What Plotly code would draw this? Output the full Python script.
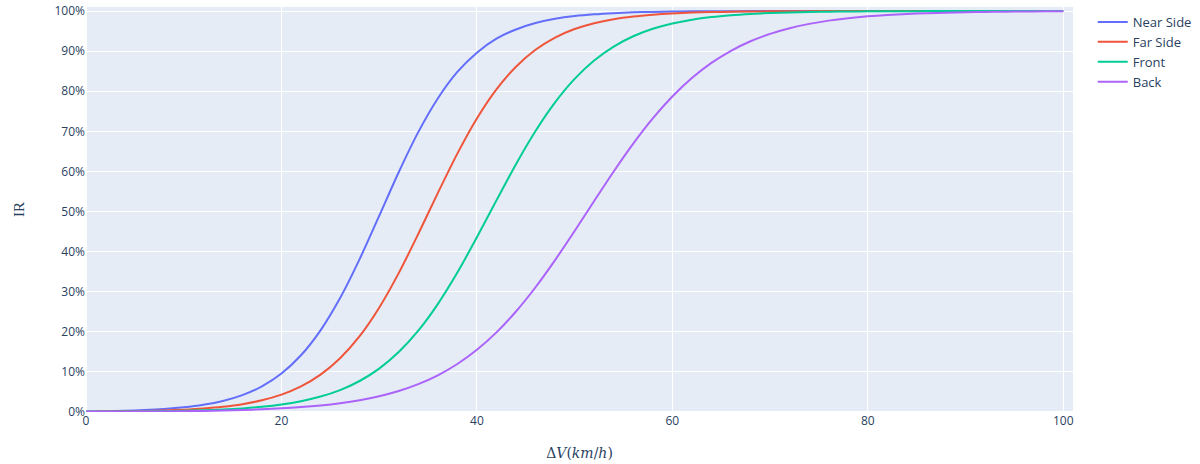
import plotly.graph_objects as go

delta_v = [0, 2, 4, 6, 8, 10, 12, 14, 16, 18, 20, 22, 24, 26, 28, 30, 32, 34, 36, 38,
           40, 42, 44, 46, 48, 50, 52, 54, 56, 58, 60, 62, 64, 66, 68, 70, 72, 74, 76, 78,
           80, 82, 84, 86, 88, 90, 92, 94, 96, 98, 100]

near_side = [0.0013, 0.0020, 0.0031, 0.0048, 0.0075, 0.0116, 0.0179, 0.0275, 0.0421, 0.0639,
             0.0959, 0.1414, 0.2036, 0.2841, 0.3813, 0.489, 0.598, 0.698, 0.782, 0.848,
             0.896, 0.931, 0.954, 0.970, 0.9805, 0.9874, 0.9918, 0.9947, 0.9966, 0.9978,
             0.9986, 0.9991, 0.99941, 0.99962, 0.99976, 0.99984, 0.9999, 0.99993, 0.99996, 0.99997,
             0.99998, 0.99999, 0.99999, 0.99999, 1.0, 1.0, 1.0, 1.0, 1.0, 1.0, 1.0]

far_side = [0.00075, 0.00113, 0.0017, 0.00256, 0.00385, 0.00579, 0.0087, 0.01305, 0.0195, 0.0292,
            0.0433, 0.0638, 0.0932, 0.1341, 0.1891, 0.2601, 0.3463, 0.4439, 0.5460, 0.6444,
            0.7320, 0.8045, 0.8611, 0.9033, 0.9337, 0.9550, 0.9697, 0.9797, 0.9864, 0.9909,
            0.9940, 0.9960, 0.9973, 0.9982, 0.9988, 0.9992, 0.99948, 0.99966, 0.99977, 0.99985,
            0.9999, 0.99993, 0.99996, 0.99997, 0.99998, 0.99999, 0.99999, 1.0, 1.0, 1.0, 1.0]

front = [0.00047, 0.00068, 0.00099, 0.00143, 0.00207, 0.00299, 0.00432, 0.00625, 0.00902, 0.0130,
         0.0187, 0.0269, 0.0385, 0.0547, 0.0773, 0.1082, 0.1494, 0.2028, 0.2691, 0.3477,
         0.4356, 0.5277, 0.6180, 0.7008, 0.7722, 0.8308, 0.8767, 0.9114, 0.9371, 0.9557,
         0.9690, 0.9784, 0.9850, 0.9896, 0.9928, 0.9950, 0.9965, 0.9976, 0.9983, 0.9989,
         0.9992, 0.99945, 0.99962, 0.99974, 0.99982, 0.99988, 0.99991, 0.99994, 0.99996, 0.99997,
         0.99998]

back = [0.00045, 0.00061, 0.00083, 0.00112, 0.00151, 0.00204, 0.00274, 0.00370, 0.00499, 0.00672,
        0.00906, 0.01219, 0.01638, 0.0220, 0.0295, 0.0394, 0.0524, 0.0695, 0.0915, 0.1197,
        0.1551, 0.1986, 0.2507, 0.3111, 0.3788, 0.4514, 0.5262, 0.5999, 0.6693, 0.7321,
        0.7867, 0.8327, 0.8705, 0.9007, 0.9245, 0.9430, 0.9571, 0.9679, 0.9760, 0.9821,
        0.9867, 0.9901, 0.9926, 0.9945, 0.9959, 0.9970, 0.9978, 0.9984, 0.9988, 0.9991,
        0.9993]

series_names = ["Near Side", "Far Side", "Front", "Back"]
series_values = [near_side, far_side, front, back]
colors = ["#636efa", "#EF553B", "#00cc96", "#ab63fa"]

fig = go.Figure()
for name, vals, col in zip(series_names, series_values, colors):
    fig.add_trace(go.Scatter(x=delta_v, y=vals, mode="lines", name=name,
                             line=dict(color=col, width=2, shape="spline", smoothing=0.8)))

fig.update_layout(
    template="plotly",
    width=1200, height=464,
    margin=dict(l=86, r=127, t=7, b=52, autoexpand=False),
    legend=dict(font=dict(size=13)),
)
fig.update_xaxes(
    range=[0, 101], dtick=20,
    title=dict(text="Δ<i>V</i>(<i>km</i>/<i>h</i>)",
               font=dict(family="DejaVu Serif", size=14, color="#2a3f5f"),
               standoff=20),
)
fig.update_yaxes(
    range=[0, 1.01], dtick=0.1, tickformat=".0%",
    title=dict(text="IR", font=dict(family="Liberation Serif", size=15, color="#2a3f5f"),
               standoff=26),
)

fig.write_html("out.html")
